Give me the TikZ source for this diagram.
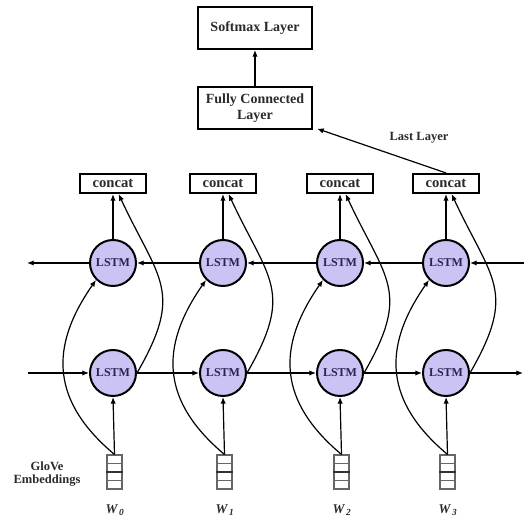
\documentclass[tikz,border=0pt]{standalone}
\usepackage{fontspec}
\setmainfont{Liberation Serif}
\usepackage{xcolor}
\usepackage{tikz}
\usetikzlibrary{arrows.meta, positioning, calc}

\definecolor{lstmfill}{HTML}{CAC3F3}
\definecolor{lstmtext}{HTML}{2B2352}
\definecolor{labeltext}{HTML}{2A2A2A}

\tikzset{
	arr/.style={-{Latex[length=5pt,width=4pt]}, line width=0.9pt},
	lstm/.style={circle, draw, line width=1.5pt, fill=lstmfill, minimum size=34.5pt, inner sep=0pt,
		font=\fontsize{9}{10}\selectfont\bfseries, text=lstmtext},
	concatbox/.style={rectangle, draw, line width=1.3pt, minimum width=49.5pt, minimum height=14.5pt,
		inner sep=0pt, font=\fontsize{11}{12}\selectfont\bfseries, text=labeltext},
	layerbox/.style={rectangle, draw, line width=1.5pt, minimum width=85.5pt, minimum height=31.5pt,
		inner sep=0pt, align=center, font=\fontsize{10.5}{12}\selectfont\bfseries, text=labeltext},
	embbox/.style={rectangle, draw=gray!80!black, line width=0.8pt, minimum width=11.25pt, minimum height=25.5pt, inner sep=0pt},
	lbl/.style={font=\fontsize{9.4}{11}\selectfont\bfseries, text=labeltext, align=center},
}

\begin{document}
\begin{tikzpicture}[x=0.75pt, y=0.75pt]
				\useasboundingbox (0,0) rectangle (524,520);
				
				% Output layers
				\node[layerbox] (soft) at (255,492) {Softmax Layer};
				\node[layerbox] (fc) at (255,412) {Fully Connected\\Layer};
				\draw[arr] (fc.north) -- (soft.south);
				
				% Columns
				\foreach \i/\x in {0/113, 1/223, 2/340, 3/446} {
					\node[concatbox] (c\i) at (\x,336.5) {concat};
					\node[lstm] (t\i) at (\x,257) {LSTM};
					\node[lstm] (b\i) at (\x,147) {LSTM};
					\node[embbox] (e\i) at (\x+1.5,48) {};
					\node[font=\fontsize{10}{12}\selectfont\bfseries\itshape, text=labeltext] (w\i) at (\x+2,10) {W\textsubscript{\,\i}};
					
					% embedding cells
					\draw[gray!80!black, line width=0.8pt] ($(e\i.north west)!.25!(e\i.south west)$) -- ($(e\i.north east)!.25!(e\i.south east)$);
					\draw[black!80, line width=1.2pt] (e\i.west) -- (e\i.east);
					\draw[gray!80!black, line width=0.8pt] ($(e\i.north west)!.75!(e\i.south west)$) -- ($(e\i.north east)!.75!(e\i.south east)$);
					
					% vertical links
					\draw[arr] (e\i.north) -- (b\i.south);
					\draw[arr] (t\i.north) -- (c\i.south);
					
					% skip curves
					\draw[arr] (e\i.north) to[out=140, in=235, looseness=1.2] (t\i.-135);
					\draw[arr] (b\i.east) to[out=60, in=-65, looseness=1.35] (c\i.-62);
				}
				
				% Recurrent links
				\coordinate (tl) at (27,257);
				\coordinate (tr) at (524,257);
				\coordinate (bl) at (28,147);
				\coordinate (br) at (523,147);
				\draw[arr] (t0.west) -- (tl);
				\draw[arr] (t1.west) -- (t0.east);
				\draw[arr] (t2.west) -- (t1.east);
				\draw[arr] (t3.west) -- (t2.east);
				\draw[arr] (tr) -- (t3.east);
				\draw[arr] (bl) -- (b0.west);
				\draw[arr] (b0.east) -- (b1.west);
				\draw[arr] (b1.east) -- (b2.west);
				\draw[arr] (b2.east) -- (b3.west);
				\draw[arr] (b3.east) -- (br);
				
				% Last layer link
				\draw[arr] (c3.north) -- ([xshift=3pt,yshift=1pt]fc.south east);
				\node[lbl] (last) at (419,382) {Last Layer};
				
				% Embedding label
				\node[lbl] (glove) at (47,46) {GloVe\\[-1pt]Embeddings};
			\end{tikzpicture}
\end{document}
